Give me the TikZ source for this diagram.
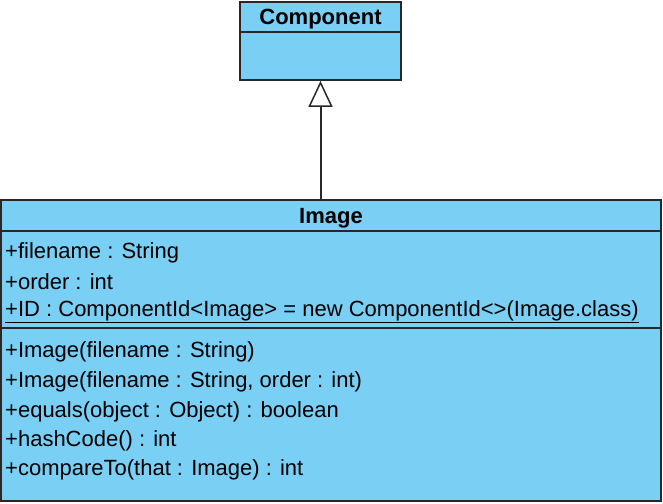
\documentclass[tikz,border=0pt]{standalone}
\usepackage{fontspec}
\setmainfont{Liberation Sans}
\usepackage{tikz}
\usetikzlibrary{arrows.meta,positioning}

\definecolor{umlfill}{RGB}{122,207,245}
\definecolor{umlline}{RGB}{40,40,40}

\tikzset{
    umlbox/.style={draw=umlline, fill=umlfill, line width=1.8pt, rectangle, inner sep=0pt},
    member/.style={anchor=west, inner sep=0pt, font=\fontsize{22}{26}\selectfont},
    classname/.style={inner sep=0pt, font=\fontsize{22}{26}\selectfont\bfseries}
}

\begin{document}
\begin{tikzpicture}[x=1pt, y=-1pt]
    \useasboundingbox (0,0) rectangle (663,503);

    % Parent class
    \node[umlbox, minimum width=161pt, minimum height=30pt] (compHead) at (320.5,17) {};
    \node[umlbox, minimum width=161pt, minimum height=48pt] (compBody) at (320.5,56) {};
    \node[classname] (compName) at (320.5,19) {Component};

    % Child class compartments
    \node[umlbox, minimum width=660pt, minimum height=31pt] (imgHead) at (331,215.5) {};
    \node[umlbox, minimum width=660pt, minimum height=97pt] (imgAttr) at (331,279.5) {};
    \node[umlbox, minimum width=660pt, minimum height=173pt] (imgOps) at (331,414.5) {};
    \node[classname] (imgName) at (331,218) {Image};

    % Attributes
    \node[member] (attrA) at (5,253) {+filename : String};
    \node[member] (attrB) at (5,282) {+order : int};
    \node[member] (attrC) at (5,312) {\underline{+ID : ComponentId<Image> = new ComponentId<>(Image.class)}};

    % Operations
    \foreach \y/\lab [count=\i] in {352/{+Image(filename : String)},
                                    382/{+Image(filename : String, order : int)},
                                    412/{+equals(object : Object) : boolean},
                                    441/{+hashCode() : int},
                                    470/{+compareTo(that : Image) : int}} {
        \node[member] (op\i) at (5,\y) {\lab};
    }

    % Generalization
    \draw[line width=2pt, umlline, -{Triangle[open, width=24pt, length=26pt, line width=1.5pt]}]
        (compBody.south |- imgHead.north) -- (compBody.south);
\end{tikzpicture}
\end{document}
